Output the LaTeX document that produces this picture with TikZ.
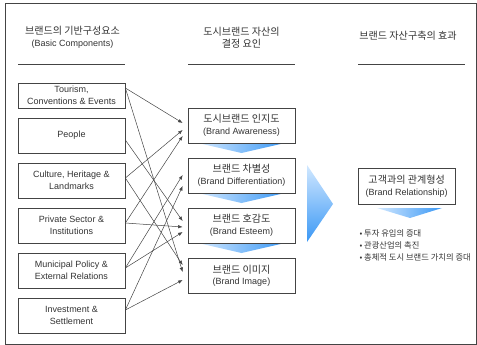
\documentclass[tikz,border=0pt]{standalone}
\usepackage{fontspec}
\setmainfont{Liberation Sans}
\newfontfamily\kr[Scale=1.12]{Noto Sans CJK KR}
\usetikzlibrary{arrows.meta}
\definecolor{txt}{HTML}{333333}
\definecolor{ln}{HTML}{444444}
\definecolor{lb}{HTML}{D2E8FF}
\definecolor{db}{HTML}{3A98F5}
\begin{document}
\begin{tikzpicture}[x=1pt,y=-1pt,
  box/.style={draw=ln, line width=0.7pt, minimum width=107pt, minimum height=35pt,
    inner sep=0pt, align=center, text=txt, font=\fontsize{9}{11.5}\selectfont},
  conn/.style={draw=ln, line width=0.5pt, -{Latex[length=4.5pt,width=3.5pt]}},
  hdr/.style={align=center, text=txt, font=\fontsize{9}{11.5}\selectfont},
  krhdr/.style={align=center, text=txt, font=\kr\fontsize{9}{11.5}\selectfont},
  hline/.style={draw=ln, line width=0.8pt},
  chev/.style={left color=lb, right color=db}
]
\useasboundingbox (0,0) rectangle (477,345);
\draw[ln, line width=0.8pt] (5,3) rectangle (476,344);

% headers
\node[hdr] (h1) at (72.5,37.5) {{\kr 브랜드의 기반구성요소}\\(Basic Components)};
\node[krhdr] (h2) at (241.5,37.5) {도시브랜드 자산의\\결정 요인};
\node[krhdr] (h3) at (408,36) {브랜드 자산구축의 효과};
\draw[hline] (18,64) -- (125,64);
\draw[hline] (188,64) -- (295,64);
\draw[hline] (358,64) -- (465,64);

% left column
\node[box, minimum height=25pt] (t) at (71.5,95.5) {Tourism,\\Conventions \& Events};
\node[box] (p) at (71.5,135.5) {People};
\node[box] (c) at (71.5,180.5) {Culture, Heritage \&\\Landmarks};
\node[box] (s) at (71.5,225.5) {Private Sector \&\\Institutions};
\node[box] (m) at (71.5,270.5) {Municipal Policy \&\\External Relations};
\node[box] (i) at (71.5,315.5) {Investment \&\\Settlement};

% chevrons (drawn under the boxes)
\shade[chev] (198,143) -- (285,143) -- (241.5,153) -- cycle;
\shade[chev] (198,193) -- (285,193) -- (241.5,203) -- cycle;
\shade[chev] (198,243) -- (285,243) -- (241.5,253) -- cycle;

% middle column
\node[box, fill=white] (a) at (241.5,125.5) {{\kr 도시브랜드 인지도}\\(Brand Awareness)};
\node[box, fill=white] (d) at (241.5,175.5) {{\kr 브랜드 차별성}\\(Brand Differentiation)};
\node[box, fill=white] (e) at (241.5,225.5) {{\kr 브랜드 호감도}\\(Brand Esteem)};
\node[box, fill=white] (g) at (241.5,276) {{\kr 브랜드 이미지}\\(Brand Image)};

% big arrow
\shade[top color=lb, bottom color=db] (307,165) -- (333,204) -- (307,242) -- cycle;

% right column
\node[box, minimum width=97pt, minimum height=36pt] (r) at (406.7,186.3) {{\kr 고객과의 관계형성}\\(Brand Relationship)};
\shade[chev] (377,208) -- (442,208) -- (410,218) -- cycle;
\node[anchor=west, align=left, text=txt, font=\kr\fontsize{7.4}{11.8}\selectfont] (bl) at (356,245.3)
  {• 투자 유입의 증대\\• 관광산업의 촉진\\• 총체적 도시 브랜드 가치의 증대};

% connectors
\draw[conn] ([yshift=7.5pt]t.east) -- ([xshift=-5pt,yshift=2.5pt]a.west);
\draw[conn] ([yshift=7.5pt]t.east) -- ([xshift=-5pt,yshift=4pt]g.west);
\draw[conn] ([yshift=-4.5pt]p.east) -- ([xshift=-5pt,yshift=4.5pt]e.west);
\draw[conn] ([yshift=2.5pt]c.east) -- ([xshift=-5pt,yshift=-4.5pt]a.west);
\draw[conn] ([yshift=2.5pt]c.east) -- ([xshift=-5pt,yshift=11pt]g.west);
\draw[conn] ([yshift=2.5pt]s.east) -- ([xshift=-5pt,yshift=-10.5pt]a.west);
\draw[conn] ([yshift=2.5pt]s.east) -- ([xshift=-5pt,yshift=-1.5pt]e.west);
\draw[conn] ([yshift=2.5pt]m.east) -- ([xshift=-5pt,yshift=0.5pt]d.west);
\draw[conn] ([yshift=2.5pt]m.east) -- ([xshift=-5pt,yshift=-6.5pt]e.west);
\draw[conn] ([yshift=5.5pt]i.east) -- ([xshift=-5pt,yshift=-10.5pt]d.west);
\draw[conn] ([yshift=5.5pt]i.east) -- ([xshift=-5pt,yshift=-4pt]g.west);
\end{tikzpicture}
\end{document}
